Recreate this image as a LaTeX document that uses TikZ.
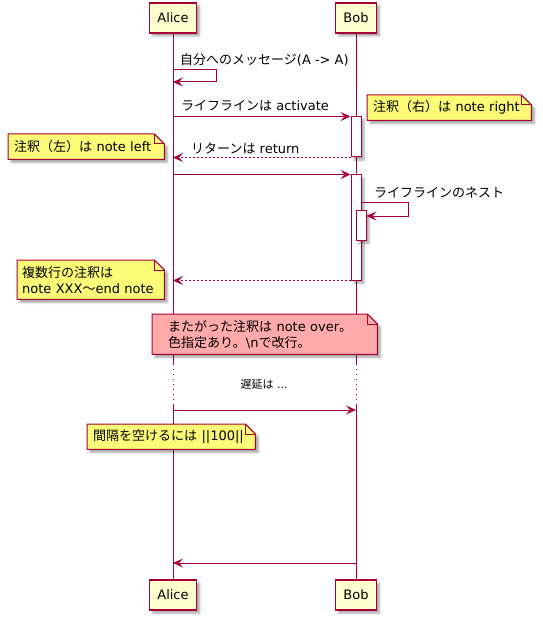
\documentclass[tikz,border=0pt]{standalone}
\usepackage{fontspec}
\setmainfont{DejaVu Sans}
\newfontfamily\jp{Noto Sans CJK JP}
\usepackage{tikz}
\usetikzlibrary{arrows.meta,shadows.blur}
\definecolor{umlred}{HTML}{A80036}
\definecolor{partbg}{HTML}{FEFECE}
\definecolor{notebg}{HTML}{FBFB77}
\definecolor{overbg}{HTML}{FFAAAA}
\pgfdeclarelayer{lifelayer}
\pgfdeclarelayer{notelayer}
\pgfsetlayers{lifelayer,notelayer,main}
% dog-eared paper behind a note node
\newcommand{\notepaper}[2][notebg]{%
  \begin{pgfonlayer}{notelayer}
    \filldraw[fill=#1, draw=umlred, line width=1pt, umlshadow]
      (#2.south west) -- (#2.north west) -- ([xshift=-10pt]#2.north east)
      -- ([yshift=-10pt]#2.north east) -- (#2.south east) -- cycle;
    \draw[umlred, line width=1pt] ([xshift=-10pt]#2.north east)
      -- ([xshift=-10pt, yshift=-10pt]#2.north east) -- ([yshift=-10pt]#2.north east);
  \end{pgfonlayer}}

\begin{document}
\begin{tikzpicture}[x=1pt, y=-1pt,
  every node/.style={font=\fontsize{13}{16}\selectfont},
  umlshadow/.style={blur shadow={shadow xshift=3pt, shadow yshift=-3pt,
      shadow blur radius=2pt, shadow opacity=35}},
  part/.style={draw=umlred, fill=partbg, line width=1.5pt, minimum height=30pt,
      inner xsep=8pt, umlshadow},
  lifeline/.style={umlred, line width=1pt},
  actbox/.style={draw=umlred, fill=white, line width=1pt, minimum width=10pt,
      inner sep=0pt, umlshadow},
  msg/.style={umlred, line width=1pt, -{Stealth[length=10pt, width=9pt, inset=4pt]}},
  reply/.style={msg, dash pattern=on 2pt off 2pt},
  msgtext/.style={anchor=west, inner sep=0pt},
  notetext/.style={anchor=north west, inner xsep=6pt, inner ysep=0pt, align=left}]
  \useasboundingbox (0,0) rectangle (542,620);
  % Participants and activations (shadowed nodes first)
  \node[part] (aliceTop) at (173,18) {Alice};
  \node[part] (bobTop) at (356,18) {Bob};
  \node[part] (aliceBot) at (173,595) {Alice};
  \node[part] (bobBot) at (356,595) {Bob};
  \node[actbox, minimum height=40pt] (act1) at (356,137) {};
  \node[actbox, minimum height=105pt] (act2) at (356,227.5) {};
  \node[actbox, minimum height=29pt] (act3) at (361,225.5) {};
  % Message to self
  \coordinate (selfA) at (216,70);
  \coordinate (selfAend) at (216,82);
  \node[msgtext] (selfAtext) at (180,60) {{\jp 自分へのメッセージ}(A -> A)};
  \draw[msg] (aliceTop |- selfA) -- (selfA) -- (selfAend) -- (aliceTop |- selfAend);
  % Activation and return
  \node[msgtext] (actText) at (181,106) {{\jp ライフラインは} activate};
  \draw[msg] (aliceTop |- act1.north) -- (act1.north west);
  \node[msgtext] (retText) at (191,148) {{\jp リターンは} return};
  \draw[reply] (act1.south west) -- (aliceTop |- act1.south);
  \node[notetext, text width=152pt, minimum height=25pt] (noteRight) at (367,95)
    {{\jp 注釈（右）は} note right};
  \notepaper{noteRight}
  \node[notetext, text width=144pt, minimum height=25pt] (noteLeft) at (8,134)
    {{\jp 注釈（左）は} note left};
  \notepaper{noteLeft}
  % Nested activation
  \draw[msg] (aliceTop |- act2.north) -- (act2.north west);
  \coordinate (selfB) at (408,203);
  \coordinate (selfBend) at (408,216);
  \node[msgtext] (nestText) at (374,193) {{\jp ライフラインのネスト}};
  \draw[msg] (act2.east |- selfB) -- (selfB) -- (selfBend) -- (act3.east |- selfBend);
  \draw[reply] (act2.south west) -- (aliceTop |- act2.south);
  \node[notetext, inner xsep=5pt, text width=137pt, minimum height=39pt] (noteMulti) at (17,260)
    {{\jp 複数行の注釈は}\\note XXX{\jp 〜}end note};
  \notepaper{noteMulti}
  % Note over both
  \node[notetext, inner xsep=16pt, text width=193pt, minimum height=40pt] (noteOver) at (152,314)
    {{\jp またがった注釈は} note over{\jp 。}\\{\jp 色指定あり。}\textbackslash n{\jp で改行。}};
  \notepaper[overbg]{noteOver}
  % Delay
  \node[font=\fontsize{11}{13}\selectfont] (delayText) at (264,384) {{\jp 遅延は} ...};
  \coordinate (m7) at (0,410);
  \draw[msg] (aliceTop |- m7) -- (bobTop |- m7);
  % Space
  \node[notetext, text width=156pt, minimum height=25pt] (noteGap) at (87,424)
    {{\jp 間隔を空けるには} ||100||};
  \notepaper{noteGap}
  \coordinate (m8) at (0,563);
  \draw[msg] (bobTop |- m8) -- (aliceTop |- m8);
  % Lifelines last (shadows clear the layers), dotted over the delay
  \coordinate (gapTop) at (0,364);
  \coordinate (gapBot) at (0,404);
  \begin{pgfonlayer}{lifelayer}
    \foreach \p in {alice,bob} {
      \draw[lifeline] (\p Top) -- (\p Top |- gapTop);
      \draw[lifeline, dash pattern=on 1pt off 4pt] (\p Top |- gapTop) -- (\p Top |- gapBot);
      \draw[lifeline] (\p Top |- gapBot) -- (\p Bot);
    }
  \end{pgfonlayer}
\end{tikzpicture}
\end{document}
